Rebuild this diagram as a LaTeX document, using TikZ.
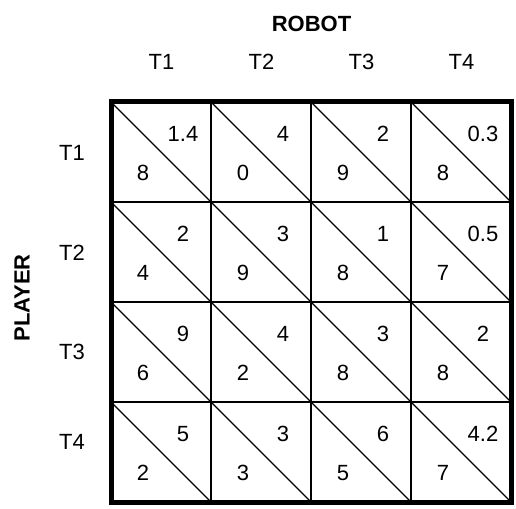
\documentclass[tikz,border=0pt]{standalone}
\usepackage{fontspec}
\setmainfont{Liberation Sans}
\begin{document}
\begin{tikzpicture}[x=1pt,y=-1pt,
  lab/.style={inner sep=0pt, outer sep=0pt, font=\fontsize{22}{26}\selectfont},
  title/.style={inner sep=0pt, outer sep=0pt, font=\fontsize{22}{26}\selectfont\bfseries},
  cellbox/.style={draw, line width=2pt, minimum size=100pt, inner sep=0pt, outer sep=0pt},
  diag/.style={line width=1.4pt},
  frame/.style={draw, line width=5pt, minimum size=400pt, inner sep=0pt, outer sep=0pt}]
\useasboundingbox (0,0) rectangle (516,508);
\foreach \r/\c/\u/\l in {1/1/1.4/8, 1/2/4/0, 1/3/2/9, 1/4/0.3/8,
                         2/1/2/4, 2/2/3/9, 2/3/1/8, 2/4/0.5/7,
                         3/1/9/6, 3/2/4/2, 3/3/3/8, 3/4/2/8,
                         4/1/5/2, 4/2/3/3, 4/3/6/5, 4/4/4.2/7}{
  \node[cellbox] (c\r\c) at ({61+100*\c},{52+100*\r}) {};
  \draw[diag] (c\r\c.north west) -- (c\r\c.south east);
  \node[lab] (u\r\c) at ({83+100*\c},{34+100*\r}) {\u};
  \node[lab] (l\r\c) at ({43+100*\c},{73+100*\r}) {\l};
}
\node[frame] (grid) at (311,302) {};
\foreach \c in {1,2,3,4}{
  \node[lab] (h\c) at ({61.5+100*\c},62) {T\c};
}
\foreach \r/\y in {1/153,2/253,3/352,4/442}{
  \node[lab] (v\r) at (72,\y) {T\r};
}
\node[title] (robot) at (311.5,23.5) {ROBOT};
\node[title, rotate=90] (player) at (22,298) {PLAYER};
\end{tikzpicture}
\end{document}
